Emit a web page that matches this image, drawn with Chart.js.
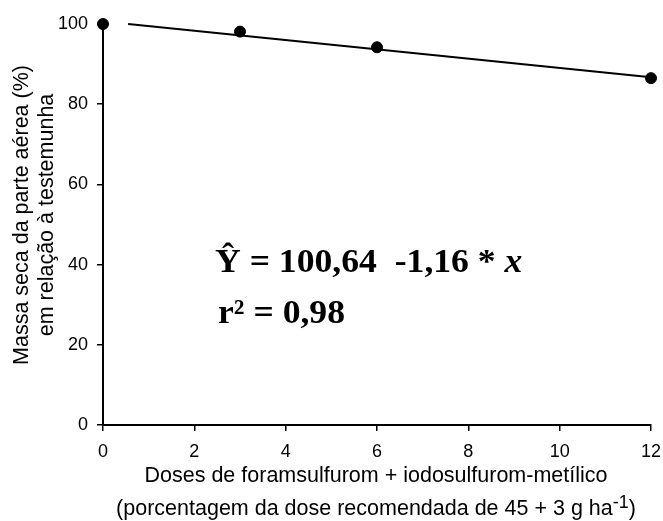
<!DOCTYPE html>
<html>
<head>
<meta charset="utf-8">
<script src="https://cdn.jsdelivr.net/npm/chart.js@4.4.1/dist/chart.umd.min.js"></script>
<style>
  body { margin: 0; background: #fff; }
  #wrap { width: 663px; height: 521px; position: relative; }
</style>
</head>
<body>
<div id="wrap"><canvas id="massaChart"></canvas></div>
<script>
// observed values
const doses = [0, 3, 6, 12];
const massaSeca = [100, 98.1, 94.2, 86.5];

// fitted line Y = 100,64 - 1,16x, drawn between its two ends
const ajusteX = [0.55, 12];
const ajusteY = [100.0, 86.72];

const xTicks = [0, 2, 4, 6, 8, 10, 12];
const yTicks = [0, 20, 40, 60, 80, 100];

const equacao = 'Ŷ = 100,64  -1,16 * ';
const r2 = 'r² = 0,98';

const sans = "'Liberation Sans', Arial, sans-serif";
const serif = "'Liberation Serif', 'Times New Roman', serif";

// axis titles and the regression text
const textos = {
    id: 'textos',
    afterDraw(chart) {
        const ctx = chart.ctx;
        ctx.save();
        ctx.fillStyle = '#000';
        ctx.textBaseline = 'alphabetic';

        // y title, two lines rotated
        ctx.font = '21.5px ' + sans;
        ctx.textAlign = 'center';
        ctx.save();
        ctx.translate(28, 215);
        ctx.rotate(-Math.PI / 2);
        ctx.fillText('Massa seca da parte aérea (%)', 0, 0);
        ctx.fillText('em relação à testemunha', 0, 25);
        ctx.restore();

        // x title
        ctx.fillText('Doses de foramsulfurom + iodosulfurom-metílico', 376, 482);
        const parte1 = '(porcentagem da dose recomendada de 45 + 3 g ha';
        ctx.font = '21.5px ' + sans;
        const w1 = ctx.measureText(parte1).width;
        ctx.font = '18px ' + sans;
        const w2 = ctx.measureText('-1').width;
        ctx.font = '21.5px ' + sans;
        const w3 = ctx.measureText(')').width;
        let x0 = 376 - (w1 + w2 + w3) / 2;
        ctx.textAlign = 'left';
        ctx.fillText(parte1, x0, 515);
        ctx.font = '18px ' + sans;
        ctx.fillText('-1', x0 + w1, 508);
        ctx.font = '21.5px ' + sans;
        ctx.fillText(')', x0 + w1 + w2, 515);

        // regression equation, slightly wide bold serif
        ctx.save();
        ctx.translate(215, 272);
        ctx.scale(1.08, 1);
        ctx.font = 'bold 33px ' + serif;
        ctx.fillText(equacao, 0, 0);
        const we = ctx.measureText(equacao).width;
        ctx.font = 'italic bold 33px ' + serif;
        ctx.fillText('x', we, 0);
        ctx.restore();

        ctx.save();
        ctx.translate(218, 323);
        ctx.scale(1.08, 1);
        ctx.font = 'bold 33px ' + serif;
        ctx.fillText(r2, 0, 0);
        ctx.restore();
        ctx.restore();
    }
};

const ctx = document.getElementById('massaChart').getContext('2d');
const massaChart = new Chart(ctx, {
    type: 'scatter',
    data: {
        datasets: [{
            label: 'Observado',
            data: doses.map((d, i) => ({ x: d, y: massaSeca[i] })),
            backgroundColor: '#000',
            borderColor: '#000',
            pointRadius: 5.5,
            pointHoverRadius: 5.5,
            clip: false
        }, {
            label: 'Ajuste',
            data: ajusteX.map((d, i) => ({ x: d, y: ajusteY[i] })),
            showLine: true,
            borderColor: '#000',
            borderWidth: 2,
            pointRadius: 0,
            clip: false
        }]
    },
    options: {
        responsive: true,
        maintainAspectRatio: false,
        animation: false,
        events: [],
        layout: { padding: { top: 24, right: 0, left: 0, bottom: 0 } },
        plugins: {
            legend: { display: false },
            tooltip: { enabled: false }
        },
        scales: {
            x: {
                type: 'linear',
                min: 0,
                max: 12,
                afterFit(scale) {
                    scale.height = 96;
                    scale.paddingRight = 12;
                },
                afterBuildTicks(scale) { scale.ticks = xTicks.map(v => ({ value: v })); },
                border: { color: '#000', width: 2 },
                grid: { drawOnChartArea: false, tickLength: 6, color: '#000', lineWidth: 1.5 },
                ticks: {
                    color: '#000',
                    padding: 10,
                    maxRotation: 0,
                    font: { family: sans, size: 18 }
                }
            },
            y: {
                min: 0,
                max: 100,
                afterFit(scale) { scale.width = 103; },
                afterBuildTicks(scale) { scale.ticks = yTicks.map(v => ({ value: v })); },
                border: { color: '#000', width: 2 },
                grid: { drawOnChartArea: false, tickLength: 6, color: '#000', lineWidth: 1.5 },
                ticks: {
                    color: '#000',
                    padding: 9,
                    font: { family: sans, size: 18 }
                }
            }
        }
    },
    plugins: [textos]
});
</script>
</body>
</html>
